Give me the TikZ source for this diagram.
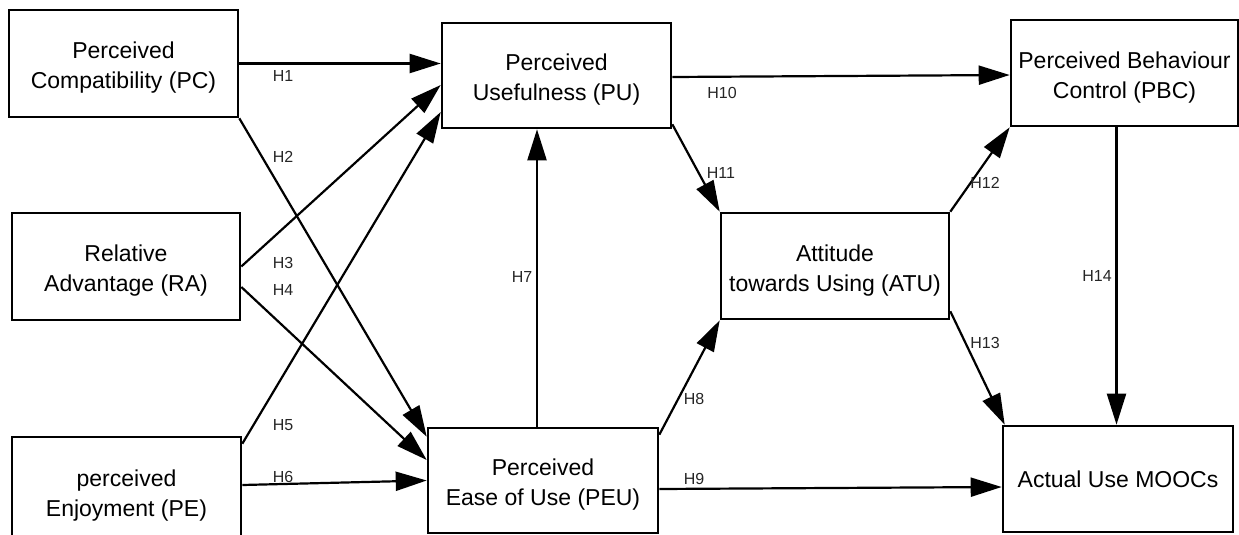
\documentclass[tikz,border=0pt]{standalone}
\usepackage{fontspec}
\setmainfont{Liberation Sans}
\usetikzlibrary{arrows.meta}
\newcommand{\topstrut}{\rule{0pt}{25pt}}
\begin{document}
\begin{tikzpicture}[x=1pt,y=-1pt,
  box/.style={draw, line width=2.6pt, rectangle, align=center, inner sep=0pt,
    font=\fontsize{23}{30}\selectfont},
  arr/.style={line width=2.2pt, -{Triangle[length=31pt,width=19pt]}},
  hl/.style={font=\fontsize{16}{18}\selectfont, text=black!85, inner sep=0pt}]
\useasboundingbox (0,0) rectangle (1239,535);
\clip (0,0) rectangle (1239,535);
% boxes
\node[box, minimum width=229pt, minimum height=107pt] (PC) at (123.5,63.5) {\topstrut Perceived\\Compatibility (PC)};
\node[box, minimum width=228pt, minimum height=107pt] (RA) at (126,266.5) {\topstrut Relative\\Advantage (RA)};
\node[box, minimum width=229pt, minimum height=108pt] (PE) at (126.5,491) {\topstrut perceived\\Enjoyment (PE)};
\node[box, minimum width=229pt, minimum height=105pt] (PU) at (556.5,75.5) {\topstrut Perceived\\Usefulness (PU)};
\node[box, minimum width=230pt, minimum height=105pt] (PEU) at (543,480.5) {\topstrut Perceived\\Ease of Use (PEU)};
\node[box, minimum width=228pt, minimum height=106pt] (ATU) at (835,266) {\topstrut Attitude\\towards Using (ATU)};
\node[box, minimum width=227pt, minimum height=106pt] (PBC) at (1124.5,73) {\topstrut Perceived Behaviour\\Control (PBC)};
\node[box, minimum width=230pt, minimum height=106pt] (AUM) at (1118,479) {Actual Use MOOCs};
% helper coordinates
\coordinate (h7s) at ([xshift=-6pt]PEU.north);
\coordinate (h7e) at (h7s |- PU.south);
\coordinate (h14s) at ([xshift=-8pt]PBC.south);
\coordinate (h14e) at (h14s |- AUM.north);
% arrows
\draw[arr] (PC.east) -- (PU.west |- PC.east);
\draw[arr] (PC.south east) -- ([yshift=-10pt]PEU.north west);
\draw[arr] (RA.east) -- ([yshift=-9.5pt]PU.west);
\draw[arr] ([yshift=-20.5pt]RA.east) -- ([yshift=20.5pt]PEU.west);
\draw[arr] ([yshift=-8pt]PE.north east) -- ([yshift=-36.5pt]PU.west);
\draw[arr] ([yshift=6pt]PE.east) -- (PEU.west);
\draw[arr] (h7s) -- (h7e);
\draw[arr] ([yshift=-8pt]PEU.north east) -- (ATU.south west);
\draw[arr] ([yshift=-8.5pt]PEU.east) -- ([yshift=-8pt]AUM.west);
\draw[arr] ([yshift=-1.5pt]PU.east) -- ([yshift=-2pt]PBC.west);
\draw[arr] ([yshift=5pt]PU.south east) -- (ATU.north west);
\draw[arr] (ATU.north east) -- (PBC.south west);
\draw[arr] ([yshift=9pt]ATU.south east) -- ([xshift=3pt]AUM.north west);
\draw[arr] (h14s) -- (h14e);
% labels
\node[hl] (l1) at (283,76) {H1};
\node[hl] (l2) at (283,157) {H2};
\node[hl] (l3) at (283,263) {H3};
\node[hl] (l4) at (283,290) {H4};
\node[hl] (l5) at (283,425) {H5};
\node[hl] (l6) at (283,477) {H6};
\node[hl] (l7) at (522,277) {H7};
\node[hl] (l8) at (694,399) {H8};
\node[hl] (l9) at (694,479) {H9};
\node[hl] (l10) at (722,93) {H10};
\node[hl] (l11) at (721,173) {H11};
\node[hl] (l12) at (985,183) {H12};
\node[hl] (l13) at (985,343) {H13};
\node[hl] (l14) at (1097,276) {H14};
\end{tikzpicture}
\end{document}
